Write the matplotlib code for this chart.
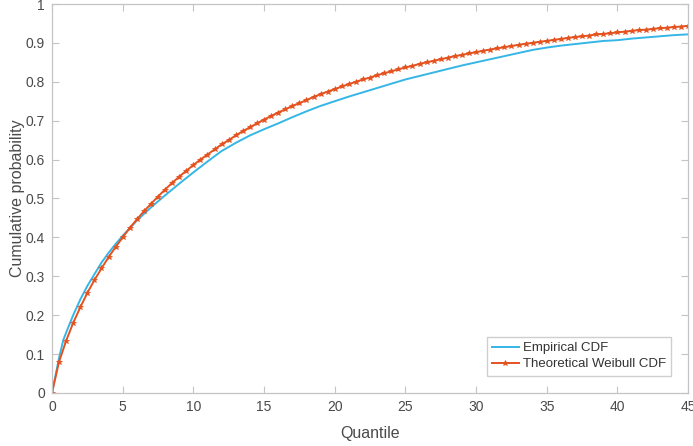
import numpy as np
import matplotlib
matplotlib.use("Agg")
import matplotlib.pyplot as plt

plt.rcParams['font.family'] = ['Liberation Sans', 'DejaVu Sans']

# Empirical CDF
emp_q = [0, 0.5, 0.8, 1, 1.5, 2, 2.5, 3, 3.5, 4, 4.5, 5, 6, 7, 8, 9, 10,
         11, 12, 13, 14, 15, 16, 17, 18, 19, 20, 21, 22, 23, 24, 25, 26,
         27, 28, 29, 30, 31, 32, 33, 34, 35, 36, 37, 38, 39, 40, 41, 42,
         43, 44, 45]
emp_p = [0, 0.09, 0.136, 0.155, 0.20, 0.24, 0.275, 0.305, 0.335, 0.36,
         0.383, 0.404, 0.443, 0.477, 0.508, 0.538, 0.567, 0.595, 0.622,
         0.643, 0.662, 0.678, 0.693, 0.709, 0.724, 0.738, 0.750, 0.762,
         0.773, 0.784, 0.795, 0.806, 0.815, 0.824, 0.833, 0.842, 0.850,
         0.858, 0.866, 0.874, 0.882, 0.888, 0.893, 0.897, 0.901, 0.905,
         0.907, 0.911, 0.914, 0.917, 0.920, 0.922]

# Theoretical Weibull CDF, sampled every 0.5
wb_q = [i * 0.5 for i in range(91)]
wb_p = [0, 0.080, 0.134, 0.180, 0.220, 0.257, 0.290, 0.320, 0.349, 0.375,
        0.400, 0.424, 0.446, 0.467, 0.486, 0.505, 0.523, 0.540, 0.556,
        0.571, 0.586, 0.600, 0.613, 0.626, 0.639, 0.650, 0.662, 0.673,
        0.683, 0.693, 0.703, 0.712, 0.721, 0.729, 0.738, 0.745, 0.753,
        0.761, 0.768, 0.775, 0.781, 0.788, 0.794, 0.800, 0.806, 0.811,
        0.817, 0.822, 0.827, 0.832, 0.837, 0.841, 0.846, 0.850, 0.854,
        0.858, 0.862, 0.866, 0.869, 0.873, 0.876, 0.880, 0.883, 0.886,
        0.889, 0.892, 0.895, 0.898, 0.900, 0.903, 0.905, 0.908, 0.910,
        0.913, 0.915, 0.917, 0.919, 0.922, 0.923, 0.925, 0.927, 0.929,
        0.931, 0.933, 0.934, 0.936, 0.938, 0.939, 0.941, 0.942, 0.944]

txt = '#4a4a4a'
grid_c = '#c4c4c4'

fig = plt.figure(figsize=(6.93, 4.46), dpi=100)
ax = fig.add_axes([0.075, 0.119, 0.918, 0.872])

ax.plot(emp_q, emp_p, color='#35b6e6', lw=1.4, label='Empirical CDF')
ax.plot(wb_q, wb_p, color='#e4521f', lw=1.4, marker='*', ms=3.8,
        markeredgewidth=0.5, label='Theoretical Weibull CDF')

ax.set_xlim(0, 45)
ax.set_ylim(0, 1)
ax.set_xticks(np.arange(0, 46, 5))
ax.set_yticks(np.arange(0, 1.01, 0.1))
ax.set_yticklabels(['0', '0.1', '0.2', '0.3', '0.4', '0.5', '0.6', '0.7',
                    '0.8', '0.9', '1'])

for s in ax.spines.values():
    s.set_color(grid_c)
    s.set_linewidth(0.9)
ax.tick_params(direction='in', length=5, width=0.8, color=grid_c,
               labelcolor=txt, labelsize=10, top=True, right=True, pad=5)

ax.set_xlabel('Quantile', color=txt, fontsize=11.5, labelpad=9)
ax.set_ylabel('Cumulative probability', color=txt, fontsize=11.5)
ax.yaxis.set_label_coords(-0.042, 0.5)

leg = ax.legend(loc='lower right', fontsize=9.5, frameon=True, fancybox=False,
                edgecolor=grid_c, handlelength=2.0, handletextpad=0.3,
                borderaxespad=1.3, labelspacing=0.3, borderpad=0.4)
for t in leg.get_texts():
    t.set_color('#333333')

fig.savefig('out.png', dpi=100)
